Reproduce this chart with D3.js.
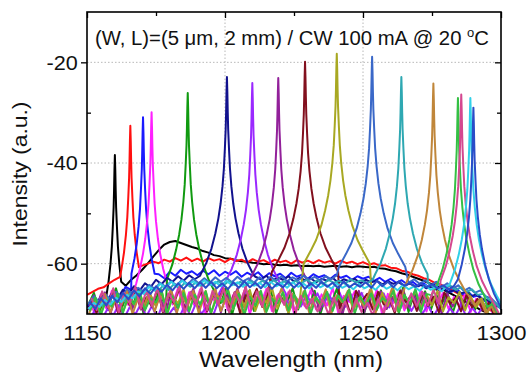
<!DOCTYPE html>
<html>
<head>
<meta charset="utf-8">
<script src="https://cdn.jsdelivr.net/npm/d3@7"></script>
<style>
  html, body { margin: 0; padding: 0; background: #fff; }
  svg { display: block; font-family: "Liberation Sans", Arial, sans-serif; }
</style>
</head>
<body>
<script>
// ----- Data -----

// lasing peaks, in the order they sit on the wavelength axis
const peakWavelengths = [1160.1, 1165.7, 1170.3, 1173.4, 1186.5, 1200.7, 1209.9, 1219.3, 1229.0,
                         1240.5, 1253.3, 1263.9, 1275.5, 1284.4, 1285.6, 1288.9, 1290.0];
const peakLevels = [-38.4, -32.6, -30.9, -29.9, -26.1, -22.9, -24.1, -23.1, -19.9,
                    -18.3, -18.9, -22.9, -24.2, -27.1, -26.4, -27.1, -29.0];
const peakColors = ["#000000", "#ff1010", "#1a1aff", "#ff20ff", "#109a10", "#12128e", "#9a28ff", "#92209a", "#82101e",
                    "#a8a822", "#3a68c8", "#2ea8b2", "#c0863a", "#34c044", "#d44890", "#30d0e8", "#2a4cc8"];

// line shape around a peak: offset (nm) and drop below the peak (dB)
const skirtOffsets = [0.15, 0.3, 0.45, 0.75, 1.1, 1.6, 2.3, 3.1, 4.2, 5.6, 7.5, 9.5, 12];
const skirtDrops = [3.0, 7.1, 10.4, 14.3, 18.2, 21.7, 25.2, 28.1, 31.1, 34.1, 37.0, 39.2, 41.7];

// spectrum floors, one value every 2 nm from 1150 nm (+ a per-trace start shift)
const floorShifts = [0, 0, 0, 1, 0.5, 1, 1.5, 0.5, 1.5, 1, 0.5, 1.5, 0.5, 1, 1.5, 0.5, 1];
const floorBlack = [
  -68.6,-68.1,-67.7,-67.0,-66.6,-66.2,-65.4,-64.4,-63.2,-62.3,
  -61.2,-60.0,-58.6,-57.3,-56.2,-55.7,-55.5,-55.9,-56.3,-56.7,
  -57.0,-57.5,-57.8,-58.3,-58.5,-58.9,-59.0,-59.3,-59.5,-59.6,
  -59.8,-59.9,-60.1,-60.0,-60.2,-60.3,-60.2,-60.4,-60.3,-60.5,
  -60.4,-60.5,-60.4,-60.6,-60.5,-60.4,-60.6,-60.5,-60.7,-60.5,
  -60.6,-60.7,-60.6,-60.9,-61.0,-61.3,-61.5,-61.9,-62.2,-62.6,
  -63.0,-63.4,-63.9,-64.3,-64.8,-65.4,-66.0,-66.6,-67.2,-67.8,
  -68.4,-69.0,-69.5,-70.1,-70.6,-71.2];
const floorRed = [
  -66.2,-65.6,-65.0,-64.7,-63.9,-63.2,-62.6,-62.0,-61.4,-60.9,
  -60.4,-60.0,-59.6,-59.9,-59.2,-59.6,-58.9,-59.4,-58.8,-59.5,
  -59.0,-59.6,-58.9,-59.4,-59.1,-59.7,-59.0,-59.5,-59.2,-59.8,
  -59.1,-59.6,-59.3,-59.9,-59.2,-59.7,-59.4,-60.0,-59.3,-59.8,
  -59.4,-59.9,-59.3,-59.8,-59.5,-60.0,-59.4,-59.9,-59.6,-60.1,
  -59.7,-60.2,-59.9,-60.4,-60.3,-60.8,-60.9,-61.4,-61.6,-62.1,
  -62.4,-62.9,-63.2,-63.8,-64.1,-64.7,-65.2,-65.8,-66.3,-66.9,
  -67.5,-68.0,-68.6,-69.2,-69.7,-70.3];
const floorBlue = [
  -68.5,-67.0,-68.2,-66.3,-67.4,-65.8,-66.5,-64.6,-65.2,-63.7,
  -64.0,-62.8,-63.4,-62.1,-62.9,-61.6,-62.4,-61.2,-62.0,-61.5,
  -62.3,-61.4,-62.1,-61.3,-62.4,-61.6,-62.2,-61.5,-62.6,-61.8,
  -62.4,-61.7,-62.8,-61.9,-62.5,-62.0,-62.9,-61.8,-62.6,-62.2,
  -63.0,-62.1,-62.7,-62.3,-63.1,-62.2,-62.8,-62.4,-63.2,-62.5,
  -63.0,-62.6,-63.4,-62.8,-63.6,-63.0,-63.8,-63.3,-64.1,-63.6,
  -64.5,-63.9,-64.8,-64.3,-65.2,-64.6,-65.6,-65.0,-66.1,-65.5,
  -66.6,-66.3,-67.4,-67.2,-68.3,-68.6];
const floorMagenta = [
  -67.8,-70.0,-66.1,-68.9,-65.4,-69.5,-66.7,-68.2,-65.0,-69.3,
  -66.4,-68.7,-65.2,-69.9,-66.0,-68.1,-64.8,-69.6,-65.7,-68.4,
  -65.1,-70.1,-66.5,-67.9,-64.9,-69.2,-66.2,-68.8,-65.4,-70.0,
  -66.6,-68.0,-65.0,-69.4,-66.3,-67.7,-65.6,-69.8,-66.9,-68.5,
  -65.3,-69.1,-66.1,-68.3,-64.8,-69.7,-66.4,-67.6,-65.5,-69.0,
  -66.8,-68.6,-65.2,-70.2,-66.0,-67.8,-65.7,-69.3,-66.5,-68.1,
  -65.4,-69.5,-66.3,-67.9,-65.8,-69.0,-66.6,-68.4,-66.1,-69.6,
  -67.0,-68.8,-67.5,-69.7,-70.4,-71.2];
const floorGreen = [
  -68.1,-65.8,-69.6,-66.9,-67.3,-64.9,-69.0,-66.2,-68.4,-65.3,
  -70.0,-66.6,-67.8,-65.0,-69.3,-66.1,-68.6,-64.8,-69.8,-66.4,
  -67.5,-65.2,-69.2,-66.7,-68.0,-64.7,-70.3,-66.0,-67.7,-65.5,
  -69.4,-66.3,-68.3,-65.1,-69.9,-66.8,-67.6,-64.9,-69.1,-65.9,
  -68.2,-65.4,-70.1,-66.5,-67.9,-65.0,-69.5,-66.2,-68.5,-65.6,
  -69.7,-66.0,-67.8,-65.3,-69.0,-66.6,-68.3,-64.8,-69.6,-65.8,
  -67.9,-65.5,-69.3,-66.1,-68.1,-65.7,-69.8,-66.4,-67.6,-65.9,
  -69.2,-66.8,-68.9,-67.9,-70.3,-71.0];
const floorNavy = [
  -67.5,-68.6,-66.4,-67.8,-65.9,-67.0,-65.2,-66.1,-64.5,-65.4,
  -63.9,-64.7,-63.2,-64.1,-62.8,-63.6,-62.5,-63.4,-62.3,-63.1,
  -62.4,-63.2,-62.2,-63.0,-62.6,-63.3,-62.3,-62.9,-62.5,-63.4,
  -62.6,-63.1,-62.4,-63.5,-62.7,-63.2,-62.5,-63.6,-62.8,-63.3,
  -62.9,-63.7,-63.0,-63.4,-62.8,-63.8,-63.1,-63.5,-63.0,-63.9,
  -63.2,-63.7,-63.4,-64.1,-63.5,-64.0,-63.7,-64.4,-63.9,-64.6,
  -64.2,-64.9,-64.5,-65.3,-64.8,-65.7,-65.2,-66.0,-65.6,-66.5,
  -66.1,-67.0,-67.2,-68.1,-68.5,-69.4];
const floorViolet = [
  -70.6,-68.5,-71.0,-68.9,-70.3,-68.2,-70.8,-68.6,-70.1,-68.0,
  -70.5,-68.4,-70.9,-67.8,-70.2,-68.7,-70.7,-68.1,-70.4,-67.9,
  -70.0,-68.3,-70.6,-67.6,-69.8,-67.2,-69.5,-66.9,-69.0,-66.5,
  -68.7,-66.8,-69.2,-67.0,-69.6,-67.3,-69.1,-66.6,-68.5,-66.2,
  -68.0,-65.9,-68.4,-66.1,-67.8,-65.7,-68.6,-66.0,-68.2,-65.8,
  -68.5,-66.2,-68.0,-65.9,-68.7,-66.4,-68.9,-66.8,-69.4,-67.5,
  -70.0,-68.1,-70.5,-68.6,-70.8,-68.9,-70.3,-68.2,-70.6,-68.7,
  -70.2,-68.5,-70.9,-69.4,-71.0,-71.3];
const floorPurple = [
  -69.2,-66.3,-68.5,-65.7,-69.9,-66.6,-67.7,-65.1,-68.9,-66.0,
  -69.5,-65.6,-68.1,-66.8,-70.0,-65.4,-68.7,-66.3,-67.5,-65.0,
  -69.1,-66.5,-68.3,-65.2,-69.7,-66.1,-67.8,-64.9,-68.6,-65.8,
  -69.8,-66.4,-67.6,-65.3,-68.9,-66.9,-69.5,-65.7,-68.0,-65.1,
  -68.8,-66.2,-69.4,-65.6,-67.9,-66.8,-70.2,-65.9,-68.4,-65.4,
  -69.6,-66.0,-68.2,-65.5,-69.0,-66.7,-67.7,-65.2,-68.7,-66.3,
  -69.3,-65.8,-68.1,-66.6,-69.8,-65.9,-68.5,-66.4,-69.1,-66.8,
  -68.4,-67.3,-69.6,-68.2,-70.5,-71.1];
const floorDarkRed = [
  -67.2,-69.8,-66.0,-68.7,-65.6,-70.3,-66.4,-68.2,-65.2,-69.1,
  -66.7,-68.5,-65.0,-69.7,-66.1,-67.9,-64.8,-69.2,-66.5,-68.0,
  -65.3,-69.5,-66.0,-67.6,-64.9,-68.9,-65.7,-69.9,-66.3,-67.4,
  -65.0,-68.6,-65.9,-69.3,-66.8,-67.7,-64.7,-69.0,-65.5,-68.3,
  -65.8,-69.6,-66.2,-67.8,-65.1,-68.8,-66.6,-70.1,-65.4,-67.5,
  -66.0,-69.1,-65.6,-68.1,-66.9,-69.8,-65.3,-67.6,-66.4,-69.4,
  -65.9,-68.4,-66.6,-69.7,-65.7,-68.0,-66.8,-69.5,-66.2,-68.7,
  -67.0,-69.3,-67.8,-70.2,-70.6,-71.3];
const floorOlive = [
  -69.5,-67.0,-70.2,-66.4,-68.8,-65.9,-69.6,-66.8,-68.1,-65.5,
  -69.0,-66.2,-68.4,-65.3,-70.1,-66.5,-67.9,-65.1,-69.3,-66.0,
  -68.2,-65.4,-69.8,-66.1,-67.5,-64.9,-69.0,-65.8,-68.6,-65.2,
  -69.4,-66.3,-67.8,-64.8,-68.9,-65.6,-70.0,-66.2,-67.7,-64.7,
  -68.5,-65.3,-69.6,-66.0,-67.4,-65.0,-68.8,-65.5,-69.9,-66.3,
  -67.6,-65.1,-69.2,-65.8,-68.4,-64.9,-69.7,-66.4,-67.9,-65.3,
  -69.0,-66.1,-68.3,-65.4,-69.5,-66.7,-67.8,-65.6,-69.3,-66.5,
  -68.7,-66.9,-69.8,-67.6,-70.4,-71.0];
const floorSteel = [
  -68.0,-66.5,-67.6,-66.0,-67.1,-65.6,-66.6,-65.1,-66.0,-64.8,
  -65.5,-64.2,-65.0,-63.8,-64.6,-63.5,-64.3,-63.2,-64.1,-63.0,
  -63.9,-62.9,-63.8,-62.7,-63.6,-62.8,-63.7,-62.6,-63.5,-62.9,
  -63.8,-62.7,-63.6,-62.6,-63.4,-62.5,-63.5,-62.7,-63.3,-62.4,
  -63.2,-62.6,-63.4,-62.5,-63.1,-62.3,-63.0,-62.4,-63.2,-62.6,
  -63.1,-62.7,-63.4,-62.9,-63.6,-62.8,-63.5,-63.0,-63.8,-63.1,
  -64.0,-63.3,-64.3,-63.6,-64.7,-63.9,-65.0,-64.3,-65.4,-64.8,
  -65.8,-65.3,-66.5,-66.9,-68.0,-69.2];
const floorTeal = [
  -68.8,-67.2,-68.4,-66.8,-67.9,-66.3,-67.5,-65.9,-66.8,-65.4,
  -66.1,-64.9,-65.6,-64.4,-65.2,-64.1,-64.9,-63.8,-64.6,-63.7,
  -64.5,-63.6,-64.4,-63.5,-64.3,-63.4,-64.2,-63.6,-64.4,-63.5,
  -64.3,-63.4,-64.1,-63.3,-64.0,-63.5,-64.2,-63.4,-64.0,-63.2,
  -63.9,-63.3,-64.1,-63.2,-63.8,-63.4,-64.0,-63.1,-63.7,-63.3,
  -63.9,-63.2,-63.8,-63.4,-64.0,-63.3,-63.9,-63.5,-64.1,-63.6,
  -64.3,-63.8,-64.6,-64.1,-64.9,-64.3,-65.2,-64.7,-65.6,-65.1,
  -66.2,-66.0,-67.1,-67.6,-68.7,-69.8];
const floorBrown = [
  -70.4,-67.1,-68.9,-66.0,-69.7,-66.8,-68.2,-65.5,-70.0,-66.9,
  -68.6,-65.7,-69.5,-66.3,-67.6,-65.2,-69.8,-66.6,-68.4,-65.4,
  -69.9,-66.2,-67.9,-65.0,-69.4,-66.7,-68.7,-65.3,-70.2,-66.1,
  -68.0,-65.6,-69.6,-66.4,-67.8,-64.9,-69.2,-66.0,-68.8,-65.5,
  -69.7,-66.6,-68.1,-65.1,-70.0,-66.3,-67.7,-65.4,-69.3,-66.8,
  -68.6,-65.2,-69.9,-66.5,-68.2,-64.9,-69.4,-65.8,-67.9,-65.0,
  -69.1,-66.2,-68.5,-65.6,-69.7,-66.9,-68.0,-65.3,-69.5,-66.4,
  -68.3,-67.0,-69.9,-68.4,-70.7,-71.2];
const floorGreen2 = [
  -69.4,-66.7,-70.1,-67.3,-68.5,-65.9,-69.8,-66.4,-68.0,-65.6,
  -69.2,-66.9,-67.7,-65.3,-70.0,-66.5,-68.8,-65.8,-69.5,-66.2,
  -68.1,-65.5,-69.7,-66.8,-67.6,-65.2,-69.0,-66.0,-70.2,-66.6,
  -68.3,-65.4,-69.6,-66.9,-67.9,-65.7,-69.3,-66.1,-68.6,-65.3,
  -70.0,-66.7,-68.2,-65.6,-69.4,-66.3,-67.8,-65.1,-69.9,-66.5,
  -68.4,-65.9,-69.1,-66.8,-67.7,-65.4,-69.8,-66.2,-68.0,-65.0,
  -69.6,-66.0,-68.7,-65.3,-69.2,-66.6,-67.9,-65.2,-68.3,-65.7,
  -67.2,-66.8,-68.6,-68.0,-70.1,-71.0];
const floorPink = [
  -66.8,-69.2,-65.5,-68.6,-64.9,-69.8,-65.8,-67.9,-64.6,-69.0,
  -65.3,-68.4,-64.8,-69.5,-65.9,-67.6,-64.5,-69.9,-65.6,-68.1,
  -64.7,-69.3,-65.4,-68.0,-64.9,-69.7,-65.7,-67.8,-64.6,-69.1,
  -65.5,-68.5,-64.8,-69.6,-66.0,-68.2,-65.3,-70.0,-66.4,-68.9,
  -66.9,-69.5,-67.2,-70.1,-66.7,-69.8,-67.5,-70.3,-67.0,-69.6,
  -67.8,-70.2,-67.1,-69.9,-66.6,-69.4,-66.2,-68.8,-65.9,-68.5,
  -65.6,-68.3,-65.2,-67.9,-64.8,-67.5,-64.4,-66.9,-64.0,-66.6,
  -65.0,-66.3,-67.4,-68.8,-70.2,-71.0];
const floorCyan = [
  -69.0,-67.8,-68.6,-67.2,-68.1,-66.8,-67.6,-66.2,-66.9,-65.5,
  -66.0,-64.6,-65.3,-64.0,-64.8,-63.6,-64.5,-63.4,-64.3,-63.5,
  -64.4,-63.3,-64.2,-63.6,-64.5,-63.4,-64.3,-63.7,-64.6,-63.5,
  -64.4,-63.8,-64.7,-63.6,-64.5,-63.9,-64.8,-63.7,-64.6,-64.0,
  -64.9,-63.8,-64.7,-64.1,-65.0,-63.9,-64.8,-64.2,-65.1,-64.0,
  -64.9,-64.3,-65.2,-64.1,-65.0,-64.4,-65.3,-64.2,-65.1,-64.5,
  -65.4,-64.3,-65.2,-64.6,-65.5,-64.4,-65.3,-64.7,-65.6,-64.6,
  -65.5,-65.3,-66.4,-67.0,-68.1,-69.3];
const floorBlue2 = [
  -67.6,-69.0,-66.9,-68.3,-66.4,-67.7,-65.8,-67.1,-65.3,-66.5,
  -64.9,-66.0,-64.5,-65.6,-64.2,-65.3,-63.9,-65.0,-63.8,-64.9,
  -63.7,-64.8,-63.6,-64.9,-63.9,-65.1,-63.7,-64.8,-63.5,-64.7,
  -63.8,-64.9,-63.6,-65.0,-63.9,-64.7,-63.5,-64.8,-63.7,-65.0,
  -63.9,-64.8,-63.6,-64.6,-63.8,-64.9,-63.5,-64.7,-63.9,-64.6,
  -63.7,-64.8,-63.4,-64.5,-63.6,-64.7,-63.5,-64.4,-63.8,-64.6,
  -63.9,-64.7,-64.1,-64.9,-64.3,-65.1,-64.4,-65.2,-64.6,-65.0,
  -64.8,-65.6,-66.5,-67.4,-68.6,-70.0];

const floors = [floorBlack, floorRed, floorBlue, floorMagenta, floorGreen, floorNavy, floorViolet, floorPurple, floorDarkRed,
                floorOlive, floorSteel, floorTeal, floorBrown, floorGreen2, floorPink, floorCyan, floorBlue2];
const floorGrid = d3.range(1150, 1301, 2);

const xMajor = [1150, 1200, 1250, 1300];
const xMinor = [1175, 1225, 1275];
const yMajor = [-20, -40, -60];
const yMinor = [-30, -50];

// ----- Layout -----
const Width = 527, Height = 372;
const Plot = { left: 87, right: 501, top: 12, bottom: 314 };

function floorAt(i, w) {
    const f = floors[i];
    const j = Math.max(0, Math.min(f.length - 1, Math.round((w - 1150 - floorShifts[i]) / 2)));
    return f[j];
}

// floor samples plus the peak's skirt points that stand above the floor
function spectrumPoints(i) {
    const c = peakWavelengths[i], p = peakLevels[i], f = floors[i];
    const side = (sign) => {
        const pts = [];
        for (let k = 0; k < skirtOffsets.length; k++) {
            const w = c + sign * skirtOffsets[k], v = p - skirtDrops[k];
            if (v <= floorAt(i, w)) break;
            pts.push([w, v]);
        }
        return pts;
    };
    const left = side(-1), right = side(1);
    const lo = left.length ? left[left.length - 1][0] : c;
    const hi = right.length ? right[right.length - 1][0] : c;
    const base = floorGrid.map((w, j) => [w + floorShifts[i], f[j]]).filter(d => d[0] < lo || d[0] > hi);
    return base.concat(left, [[c, p]], right).sort((a, b) => a[0] - b[0]);
}

function main() {
    const svg = d3.select("body").append("svg")
        .attr("width", Width)
        .attr("height", Height);
    svg.append("rect").attr("width", Width).attr("height", Height).attr("fill", "#fff");

    const x = d3.scaleLinear().domain([1150, 1300]).range([Plot.left, Plot.right]);
    const y = d3.scaleLinear().domain([-70, -10]).range([Plot.bottom, Plot.top]);

    svg.append("clipPath").attr("id", "plot-clip")
        .append("rect")
        .attr("x", Plot.left).attr("y", Plot.top)
        .attr("width", Plot.right - Plot.left).attr("height", Plot.bottom - Plot.top);

    // dotted grid at the labelled ticks
    const grid = svg.append("g").attr("stroke", "#b8b8b8").attr("stroke-width", 1).attr("stroke-dasharray", "1.5,2");
    grid.selectAll(".gy").data(yMajor).enter().append("line")
        .attr("x1", Plot.left).attr("x2", Plot.right)
        .attr("y1", d => y(d)).attr("y2", d => y(d));
    grid.selectAll(".gx").data([1200, 1250]).enter().append("line")
        .attr("y1", Plot.top).attr("y2", Plot.bottom)
        .attr("x1", d => x(d)).attr("x2", d => x(d));

    // spectra
    const line = d3.line().x(d => x(d[0])).y(d => y(d[1]));
    svg.append("g")
        .attr("clip-path", "url(#plot-clip)")
        .selectAll("path")
        .data(peakWavelengths.map((w, i) => i))
        .enter()
        .append("path")
            .attr("d", i => line(spectrumPoints(i)))
            .attr("fill", "none")
            .attr("stroke", i => peakColors[i])
            .attr("stroke-width", 2)
            .attr("stroke-linejoin", "round");

    // axes
    const plainFormat = d => String(d);
    const styleAxis = g => {
        g.select(".domain").remove();
        g.selectAll("line").attr("stroke", "#000").attr("stroke-width", 1.3);
        g.selectAll("text").attr("fill", "#111").style("font-size", "21px");
    };
    svg.append("g")
        .attr("transform", `translate(0, ${Plot.bottom})`)
        .call(d3.axisBottom(x).tickValues(xMajor).tickSizeInner(-5).tickSizeOuter(0).tickPadding(11).tickFormat(plainFormat))
        .call(styleAxis)
        .call(g => g.selectAll("text").attr("transform", "scale(1.07,1)"));
    svg.append("g")
        .attr("transform", `translate(0, ${Plot.bottom})`)
        .call(d3.axisBottom(x).tickValues(xMinor).tickSizeInner(-3).tickSizeOuter(0).tickFormat(""))
        .call(styleAxis);
    svg.append("g")
        .attr("transform", `translate(0, ${Plot.top})`)
        .call(d3.axisTop(x).tickValues(xMajor).tickSizeInner(-6).tickSizeOuter(0).tickFormat(""))
        .call(styleAxis);
    svg.append("g")
        .attr("transform", `translate(0, ${Plot.top})`)
        .call(d3.axisTop(x).tickValues(xMinor).tickSizeInner(-4).tickSizeOuter(0).tickFormat(""))
        .call(styleAxis);
    svg.append("g")
        .attr("transform", `translate(${Plot.left}, 0)`)
        .call(d3.axisLeft(y).tickValues(yMajor).tickSizeInner(6).tickSizeOuter(0).tickPadding(3).tickFormat(plainFormat))
        .call(styleAxis)
        .call(g => g.selectAll("text").attr("transform", "scale(1.03,1)"));
    svg.append("g")
        .attr("transform", `translate(${Plot.left}, 0)`)
        .call(d3.axisLeft(y).tickValues(yMinor).tickSizeInner(-4).tickSizeOuter(0).tickFormat(""))
        .call(styleAxis);
    svg.append("g")
        .attr("transform", `translate(${Plot.right}, 0)`)
        .call(d3.axisRight(y).tickValues(yMajor).tickSizeInner(-6).tickSizeOuter(0).tickFormat(""))
        .call(styleAxis);
    svg.append("g")
        .attr("transform", `translate(${Plot.right}, 0)`)
        .call(d3.axisRight(y).tickValues(yMinor).tickSizeInner(-4).tickSizeOuter(0).tickFormat(""))
        .call(styleAxis);

    // frame
    svg.append("rect")
        .attr("x", Plot.left).attr("y", Plot.top)
        .attr("width", Plot.right - Plot.left).attr("height", Plot.bottom - Plot.top)
        .attr("fill", "none").attr("stroke", "#000").attr("stroke-width", 1.6);

    // labels
    svg.append("text")
        .text("Wavelength (nm)")
        .attr("x", 291).attr("y", 367)
        .attr("text-anchor", "middle")
        .attr("textLength", 184).attr("lengthAdjust", "spacingAndGlyphs")
        .attr("fill", "#111")
        .style("font-size", "22px");
    svg.append("text")
        .text("Intensity (a.u.)")
        .attr("transform", "translate(27, 174) rotate(-90)")
        .attr("text-anchor", "middle")
        .attr("textLength", 145).attr("lengthAdjust", "spacingAndGlyphs")
        .attr("fill", "#111")
        .style("font-size", "21px");

    const note = svg.append("text")
        .attr("x", 95).attr("y", 45)
        .attr("fill", "#111")
        .style("font-size", "20.3px");
    note.append("tspan").text("(W, L)=(5 \u03bcm, 2 mm) / CW 100 mA @ 20 ");
    note.append("tspan").text("o").attr("dy", -8).style("font-size", "13px");
    note.append("tspan").text("C").attr("dy", 8);
}

main();
</script>
</body>
</html>
